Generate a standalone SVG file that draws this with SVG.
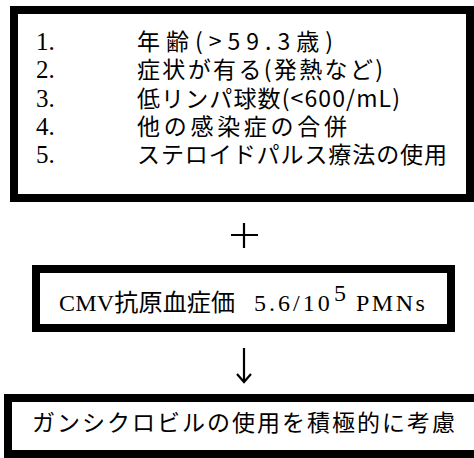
<svg xmlns="http://www.w3.org/2000/svg" width="474" height="458" viewBox="0 0 474 458">
<style>
.box{fill:#fff;stroke:#000;stroke-width:8}
.num{font-family:"Liberation Serif","Noto Sans CJK JP",serif;font-size:25px;fill:#000}
.jp{font-family:"Noto Sans CJK JP","Liberation Sans",sans-serif;font-size:23px;fill:#000}
.mix{font-family:"Liberation Serif","Noto Sans CJK JP",serif;font-size:24px;fill:#000}
.con{stroke:#000;stroke-width:2.2;fill:none}
</style>
<rect width="474" height="458" fill="#fff"/>
<g id="risk-factors">
<rect class="box" x="14" y="10" width="456" height="188"/>
<text class="num" x="36" y="50">1.</text>
<text class="num" x="36" y="78">2.</text>
<text class="num" x="36" y="107">3.</text>
<text class="num" x="36" y="135">4.</text>
<text class="num" x="36" y="163">5.</text>
<text class="jp" x="137" y="50" textLength="196">年齢(&gt;59.3歳)</text>
<text class="jp" x="137" y="78" textLength="246">症状が有る(発熱など)</text>
<text class="jp" x="137" y="107" textLength="263">低リンパ球数(&lt;600/mL)</text>
<text class="jp" x="137" y="135" textLength="210">他の感染症の合併</text>
<text class="jp" x="137" y="163" textLength="310">ステロイドパルス療法の使用</text>
</g>
<g id="cmv-antigen">
<rect class="box" x="36" y="269" width="415" height="59"/>
<text class="mix" x="59" y="311" textLength="176">CMV抗原血症価</text>
<text class="mix" x="254" y="311" letter-spacing="3">5.6/10</text>
<text class="mix" x="334" y="301" font-size="16">5</text>
<text class="mix" x="356" y="311" letter-spacing="2.5">PMNs</text>
</g>
<g id="ganciclovir">
<rect class="box" x="8" y="398" width="470" height="56"/>
<text class="jp" x="32" y="431" font-size="24" textLength="423">ガンシクロビルの使用を積極的に考慮</text>
</g>
<g id="connectors">
<path class="con" d="M231 235H258M244 223V248"/>
<path class="con" d="M244 348V382M237 374L244 382L251 374"/>
</g>
</svg>
